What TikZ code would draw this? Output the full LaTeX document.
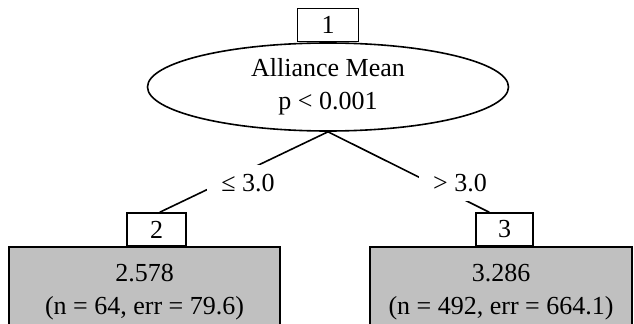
\documentclass[tikz,border=0pt]{standalone}
\usepackage{fontspec}
\setmainfont{Liberation Serif}
\usetikzlibrary{shapes.geometric}
\definecolor{leafgray}{RGB}{192,192,192}

\begin{document}
\begin{tikzpicture}[x=0.75pt, y=-0.75pt,
    every node/.style={font=\fontsize{19.5}{24.75}\selectfont},
    split/.style={ellipse, draw, line width=1.2pt, minimum width=270.75pt, minimum height=66pt, inner sep=0pt, align=center},
    idbox/.style={draw, line width=1.2pt, fill=white, minimum width=44pt, minimum height=24.75pt, inner sep=0pt},
    leaf/.style={draw, line width=1.4pt, fill=leafgray, anchor=north, align=center, inner xsep=0pt, inner ysep=13pt},
    cutlabel/.style={fill=white, inner xsep=11pt, inner ysep=7pt}]
  \clip (0,0) rectangle (634,324);
  \node[split] (s1) at (328,87) {Alliance Mean\\p < 0.001};
  \node[idbox, anchor=south, minimum width=45.75pt] (id1) at (s1.north) {1};
  \node[idbox] (id2) at (156.5,229.5) {2};
  \node[idbox, minimum width=42.75pt] (id3) at (504.5,229.5) {3};
  \node[leaf, minimum width=203.25pt] (leaf2) at (144.5,246) {2.578\\(n = 64, err = 79.6)};
  \node[leaf, minimum width=196.5pt] (leaf3) at (501,246) {3.286\\(n = 492, err = 664.1)};
  \begin{scope}[line width=1.2pt]
    \draw (s1.south) to ([xshift=2.5pt]id2.north);
    \draw (s1.south) to ([xshift=-11.5pt]id3.north);
  \end{scope}
  \node[cutlabel] (le) at (248,183) {≤ 3.0};
  \node[cutlabel] (gt) at (460,183) {> 3.0};
\end{tikzpicture}
\end{document}
